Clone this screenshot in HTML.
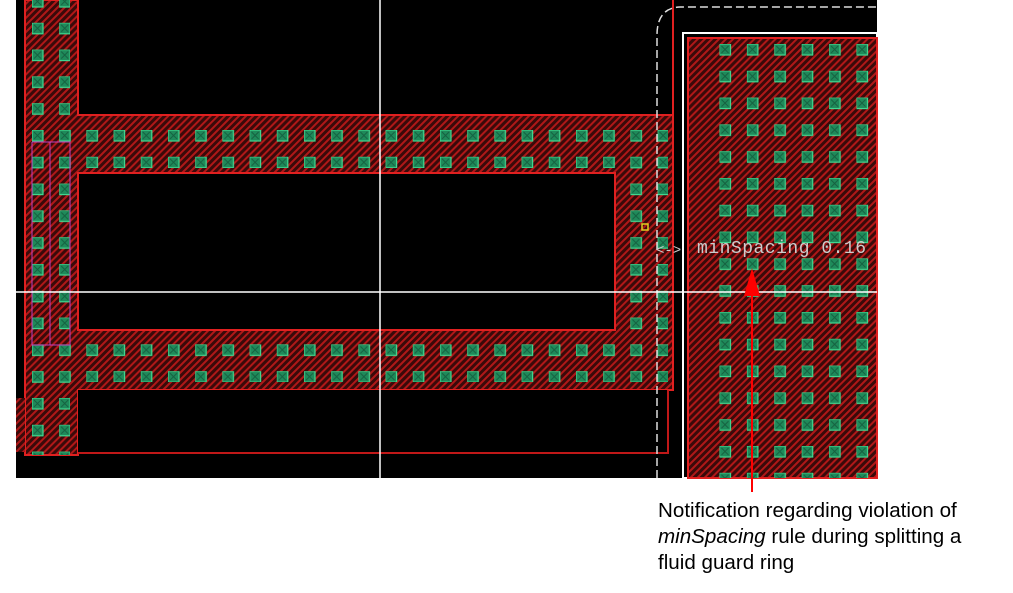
<!DOCTYPE html>
<html><head><meta charset="utf-8"><style>
html,body{margin:0;padding:0;background:#fff;width:1013px;height:593px;overflow:hidden}
.cap{position:absolute;left:658px;top:498px;font:20.6px/26px "Liberation Sans",sans-serif;color:#000;white-space:nowrap}
</style></head><body>
<svg width="1013" height="593" style="position:absolute;left:0;top:0">
<defs>
<pattern id="h" width="5" height="5" patternUnits="userSpaceOnUse" patternTransform="rotate(45)">
<rect width="5" height="5" fill="#3a0a0a"/><rect width="2" height="5" fill="#b01818"/></pattern>
<pattern id="v" x="32" y="-4" width="27.2" height="26.8" patternUnits="userSpaceOnUse">
<rect x="0" y="0" width="11" height="11" fill="#1f8a5a" stroke="#40d890" stroke-width="1.2"/>
<path d="M2 2L9 9M9 2L2 9" stroke="#156040" stroke-width="1"/></pattern>
<pattern id="v2" x="719.5" y="44" width="27.4" height="26.8" patternUnits="userSpaceOnUse">
<rect x="0" y="0" width="11" height="11" fill="#1f8a5a" stroke="#40d890" stroke-width="1.2"/>
<path d="M2 2L9 9M9 2L2 9" stroke="#156040" stroke-width="1"/></pattern>
</defs>
<rect x="16" y="0" width="861" height="478" fill="#000"/>
<path d="M25 0H78V115H673V390H78V455H25Z" fill="url(#h)" stroke="#e02020" stroke-width="2"/>
<path d="M16 398H25V452H16Z" fill="url(#h)"/>
<rect x="78" y="173" width="537" height="157" fill="#000" stroke="#e02020" stroke-width="2"/>
<path d="M30 0H70V455H30Z M70 124H668V168H70Z M627 168H668V336H627Z M70 336H668V382H70Z" fill="url(#v)"/>
<rect x="78" y="390" width="590" height="63" fill="#000"/>
<path d="M78 453H668V390" fill="none" stroke="#c01818" stroke-width="2"/>
<line x1="673" y1="0" x2="673" y2="115" stroke="#e02020" stroke-width="2"/>
<path d="M32 142V345H70M50 142V345M32 142H70V345" fill="none" stroke="#c040c0" stroke-width="1"/>
<rect x="683" y="33" width="194" height="445" fill="none" stroke="#fff" stroke-width="2"/>
<rect x="688" y="38" width="189" height="440" fill="url(#h)" stroke="#e02020" stroke-width="2"/>
<rect x="717" y="42" width="158" height="436" fill="url(#v2)"/>
<path d="M657 478V35Q657 8 680 7H877" fill="none" stroke="#ddd" stroke-width="1.5" stroke-dasharray="8,4"/>
<line x1="380" y1="0" x2="380" y2="478" stroke="#fff" stroke-width="1.5"/>
<line x1="16" y1="292" x2="877" y2="292" stroke="#fff" stroke-width="1.5"/>
<rect x="642" y="224" width="6" height="6" fill="none" stroke="#e0d020" stroke-width="1.5"/>
<text x="697" y="253" font-family="Liberation Mono,monospace" font-size="18" fill="#ccc" letter-spacing="0.5">minSpacing 0.16</text>
<text x="656" y="254" font-family="Liberation Mono,monospace" font-size="14" fill="#ccc">&lt;-&gt;</text>
<line x1="752" y1="492" x2="752" y2="290" stroke="#f00" stroke-width="2"/>
<path d="M744 296L752 268L760 296Z" fill="#f00"/>
</svg>
<div class="cap">Notification regarding violation of<br><i>minSpacing</i> rule during splitting a<br>fluid guard ring</div>
</body></html>
